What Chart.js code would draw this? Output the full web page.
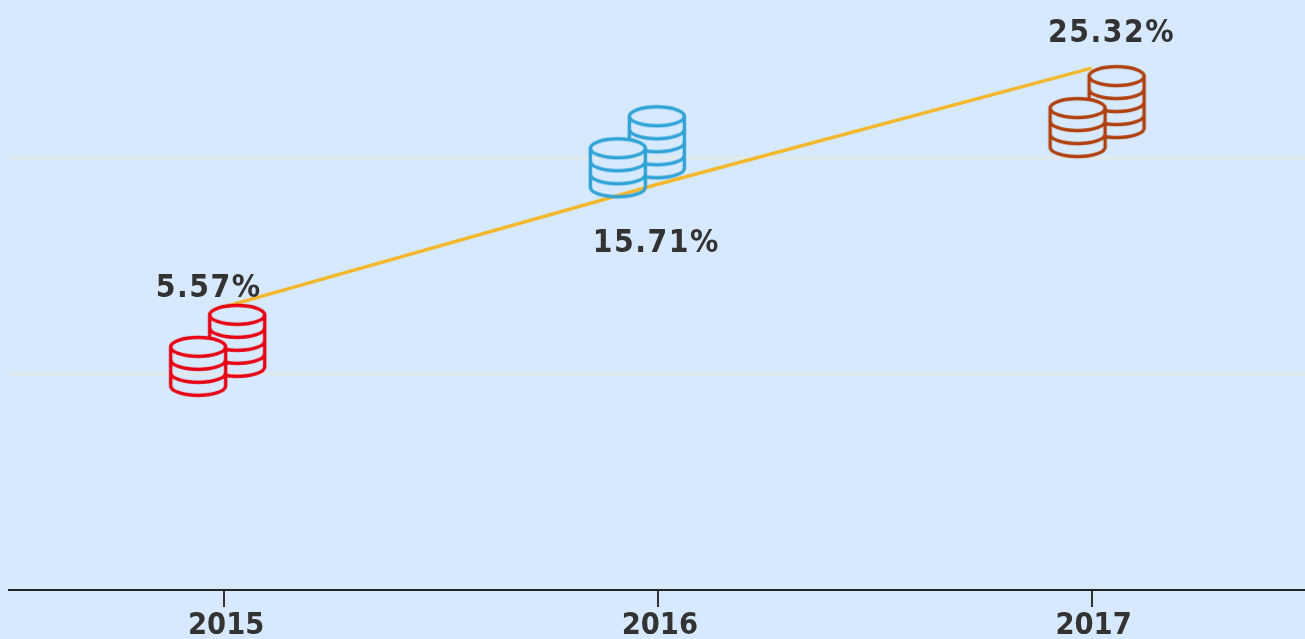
<!DOCTYPE html>
<html><head><meta charset="utf-8">
<style>html,body{margin:0;padding:0;background:#d6e9fe;overflow:hidden}#w{width:1305px;height:639px}</style>
<script src="https://cdn.jsdelivr.net/npm/chart.js@4"></script>
</head><body><div id="w"><canvas id="c" width="1305" height="639"></canvas></div>
<script>
const years = [2015, 2016, 2017];
const rates = [5.57, 15.71, 25.32];
const rateLabels = ['5.57%', '15.71%', '25.32%'];
const gridTicks = [-17.85, 0, 17.88];
const iconColors = ['#e60012', '#2fa3d6', '#b0410e'];
// icon placement relative to its data point (px)
const iconShift = [[-55, -3], [-69, -79], [-43, -3]];
const labelShift = [[-15.5, -18], [-1.5, 60], [20, -34]];
const FONT = '"DejaVu Sans Condensed", "DejaVu Sans", sans-serif';
const RX = 27.5, RY = 9.5, STEP = 13;

function stack(g, cx, cy, n, color) {
  g.strokeStyle = color; g.lineWidth = 3.4; g.lineCap = 'round';
  g.beginPath(); g.ellipse(cx, cy, RX, RY, 0, 0, Math.PI * 2); g.stroke();
  for (let i = 1; i <= n; i++) {
    g.beginPath(); g.ellipse(cx, cy + STEP * i, RX, RY, 0, 0, Math.PI); g.stroke();
  }
  g.beginPath();
  g.moveTo(cx - RX, cy); g.lineTo(cx - RX, cy + STEP * n);
  g.moveTo(cx + RX, cy); g.lineTo(cx + RX, cy + STEP * n);
  g.stroke();
}
function stackMask(g, cx, cy, n) {
  g.save(); g.globalCompositeOperation = 'destination-out'; g.fillStyle = '#000';
  g.beginPath();
  g.ellipse(cx, cy, RX, RY, 0, Math.PI, Math.PI * 2);
  g.lineTo(cx + RX, cy + STEP * n);
  g.ellipse(cx, cy + STEP * n, RX, RY, 0, 0, Math.PI);
  g.closePath(); g.fill(); g.restore();
}
function icon(i) {
  const S = 300, c = document.createElement('canvas');
  c.width = S; c.height = S;
  const g = c.getContext('2d');
  const ox = S / 2 + iconShift[i][0], oy = S / 2 + iconShift[i][1];
  stack(g, ox + 68, oy + 11, 4, iconColors[i]);
  stackMask(g, ox + 29, oy + 43, 3);
  stack(g, ox + 29, oy + 43, 3, iconColors[i]);
  return c;
}
const labelPlugin = {
  id: 'rateLabels',
  afterDatasetsDraw(chart) {
    const { ctx, scales: { x, y } } = chart;
    ctx.save();
    ctx.font = 'bold 31.5px ' + FONT;
    ctx.fillStyle = '#333333';
    ctx.textAlign = 'center'; ctx.textBaseline = 'middle';
    ctx.letterSpacing = '1.5px';
    years.forEach((yr, i) => {
      ctx.fillText(rateLabels[i], x.getPixelForValue(yr) + labelShift[i][0], y.getPixelForValue(rates[i]) + labelShift[i][1]);
    });
    ctx.restore();
  }
};
new Chart(document.getElementById('c'), {
  type: 'line',
  data: { datasets: [{
    data: years.map((yr, i) => ({ x: yr, y: rates[i] })),
    borderColor: '#f4b82d', borderWidth: 3.4, tension: 0,
    pointStyle: years.map((_, i) => icon(i)), pointRadius: 150, pointHoverRadius: 150, clip: false
  }] },
  plugins: [labelPlugin],
  options: {
    responsive: false, animation: false, events: [],
    layout: { autoPadding: false, padding: { left: 9, right: 0, top: 0, bottom: 0 } },
    plugins: { legend: { display: false }, tooltip: { enabled: false } },
    scales: {
      x: {
        type: 'linear', min: 2014.504, max: 2017.492,
        afterBuildTicks: s => { s.ticks = years.map(v => ({ value: v })); },
        afterFit: s => { s.height = 49; },
        grid: { display: true, drawOnChartArea: false, drawTicks: true, tickLength: 17, color: '#333333', lineWidth: 2 },
        border: { color: '#222222', width: 2 },
        ticks: { callback: v => String(v), maxRotation: 0, autoSkip: false, padding: 1, labelOffset: 2,
          font: { family: FONT, weight: 'bold', size: 30.5 }, color: '#333333' }
      },
      y: {
        min: -17.85, max: 30.95, display: true,
        afterBuildTicks: s => { s.ticks = gridTicks.map(v => ({ value: v })); },
        afterFit: s => { s.width = 0; },
        grid: { color: c => c.tick.value === gridTicks[0] ? 'rgba(0,0,0,0)' : '#e6e8e4', lineWidth: 2, drawTicks: false },
        border: { display: false },
        ticks: { display: false }
      }
    }
  }
});
</script></body></html>
